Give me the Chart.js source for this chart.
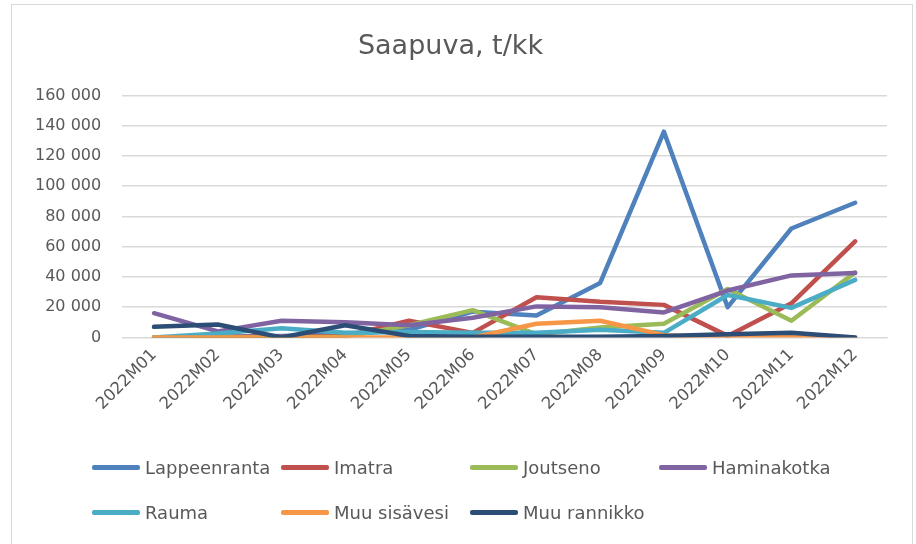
<!DOCTYPE html>
<html>
<head>
<meta charset="utf-8">
<script src="https://cdn.jsdelivr.net/npm/chart.js@4.4.0/dist/chart.umd.min.js"></script>
<style>
  html, body { margin: 0; padding: 0; background: #fff; }
  #wrap { position: relative; width: 916px; height: 544px; }
  #frame { position: absolute; left: 11px; top: 4px; width: 900px; height: 560px; border: 1px solid #d9d9d9; }
  #legend { position: absolute; left: 0; top: 0; width: 916px; height: 544px; pointer-events: none;
            font-family: "DejaVu Sans", sans-serif; font-size: 18px; color: #595959; }
  .item { position: absolute; display: flex; align-items: center; white-space: nowrap; }
  .swatch { width: 48px; height: 4.5px; border-radius: 2px; margin-right: 5px; }
</style>
</head>
<body>
<div id="wrap">
  <div id="frame"></div>
  <canvas id="chart" width="916" height="544"></canvas>
  <div id="legend"></div>
</div>
<script>
// Datos
const months = ['2022M01', '2022M02', '2022M03', '2022M04', '2022M05', '2022M06',
                '2022M07', '2022M08', '2022M09', '2022M10', '2022M11', '2022M12'];
const seriesNames = ['Lappeenranta', 'Imatra', 'Joutseno', 'Haminakotka', 'Rauma', 'Muu sisävesi', 'Muu rannikko'];
const seriesColors = ['#4f81bd', '#c0504d', '#9bbb59', '#8064a2', '#4bacc6', '#f79646', '#2c4d75'];

const lappeenranta = [0, 500, 1000, 2000, 5000, 17000, 14500, 36000, 136000, 20000, 72000, 89000];
const imatra = [0, 500, 500, 1000, 11000, 3000, 26500, 23500, 21500, 1000, 22500, 63500];
const joutseno = [0, 0, 0, 500, 8000, 18000, 2000, 6500, 9000, 32000, 11000, 43000];
const haminakotka = [16000, 4000, 11000, 10000, 8000, 13000, 20500, 20000, 16500, 31000, 41000, 42500];
const rauma = [0, 2500, 6000, 3000, 3500, 3000, 3000, 5000, 3000, 28000, 19500, 38000];
const muuSisavesi = [0, 0, 0, 0, 0, 0, 9000, 11000, 1500, 0, 1000, 0];
const muuRannikko = [7000, 8500, 0, 8000, 1000, 500, 500, 500, 1000, 2000, 3000, 0];

const yMax = 160000;
const yStep = 20000;

const allValues = [lappeenranta, imatra, joutseno, haminakotka, rauma, muuSisavesi, muuRannikko];

// Formato con espacio como separador de miles
function fmt(v) {
  return String(v).replace(/\B(?=(\d{3})+(?!\d))/g, ' ');
}

const datasets = allValues.map((vals, i) => ({
  label: seriesNames[i],
  data: vals,
  borderColor: seriesColors[i],
  backgroundColor: seriesColors[i],
  borderWidth: 4.5,
  borderCapStyle: 'round',
  borderJoinStyle: 'round',
  pointRadius: 0,
  tension: 0,
  fill: false,
  order: allValues.length - i // la última serie queda encima, como en Excel
}));

const font = 'DejaVu Sans';

new Chart(document.getElementById('chart'), {
  type: 'line',
  data: { labels: months, datasets: datasets },
  options: {
    responsive: false,
    animation: false,
    layout: { padding: { left: 14, right: 29, top: 31, bottom: 122 } },
    plugins: {
      legend: { display: false },
      tooltip: { enabled: false },
      title: {
        display: true,
        text: 'Saapuva, t/kk',
        color: '#595959',
        font: { family: font, size: 27, weight: 'normal' },
        padding: { top: 0, bottom: 32 }
      }
    },
    scales: {
      x: {
        offset: true,
        grid: { display: false, drawTicks: false },
        border: { display: true, color: '#d9d9d9', width: 1 },
        ticks: {
          color: '#595959',
          font: { family: font, size: 16.5 },
          minRotation: 45,
          maxRotation: 45,
          padding: 8,
          autoSkip: false
        }
      },
      y: {
        min: 0,
        max: yMax,
        grid: { color: '#d9d9d9', lineWidth: 1.5, drawTicks: false },
        border: { display: false },
        ticks: {
          stepSize: yStep,
          color: '#595959',
          font: { family: font, size: 16 },
          padding: 21,
          callback: v => fmt(v)
        }
      }
    }
  }
});

// Leyenda en cuadrícula (4 columnas), como en el original
const legend = document.getElementById('legend');
seriesNames.forEach((name, i) => {
  const col = i % 4;
  const row = Math.floor(i / 4);
  const el = document.createElement('div');
  el.className = 'item';
  el.style.left = (92 + col * 189) + 'px';
  el.style.top = (457 + row * 45) + 'px';
  el.innerHTML = '<span class="swatch" style="background:' + seriesColors[i] + '"></span><span>' + name + '</span>';
  legend.appendChild(el);
});
</script>
</body>
</html>
